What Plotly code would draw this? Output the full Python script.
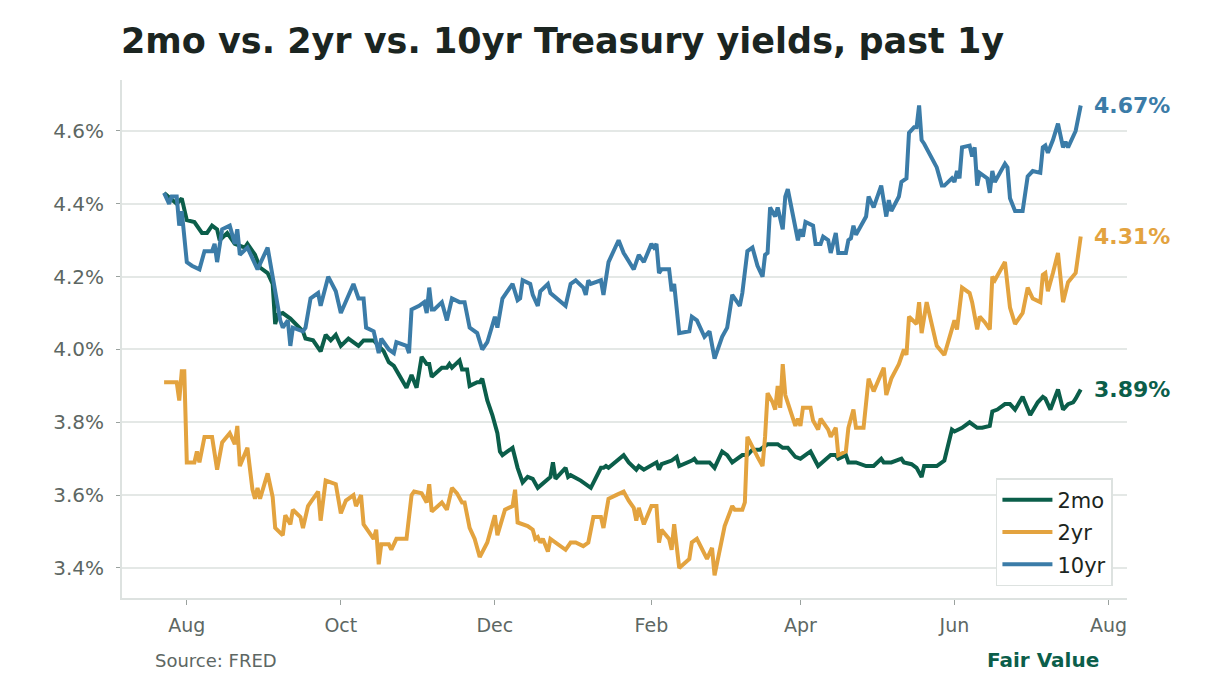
import pandas as pd
import plotly.graph_objects as go

START = pd.Timestamp("2025-07-23")

# day offsets from START and yields (%)
days_2mo = [0, 3, 5, 7, 9, 12, 15, 17, 19, 21, 22, 25, 28, 32, 33, 36, 38, 41, 43, 44, 45, 47, 50, 55, 56, 59, 62, 64, 66, 68, 70, 73, 75, 77, 79, 83, 87, 89, 91, 96, 98, 100, 102, 104, 105, 106, 110, 112, 113, 114, 117, 118, 120, 121, 124, 125, 126, 128, 130, 132, 133, 134, 136, 138, 140, 142, 144, 146, 148, 153, 154, 155, 159, 160, 161, 165, 169, 173, 174, 175, 176, 182, 184, 187, 188, 190, 195, 196, 197, 201, 203, 204, 209, 210, 211, 216, 218, 221, 223, 225, 229, 231, 233, 236, 239, 243, 245, 247, 250, 252, 256, 259, 264, 266, 267, 270, 271, 274, 278, 281, 284, 285, 288, 292, 293, 296, 298, 300, 301, 306, 309, 312, 313, 316, 319, 322, 324, 327, 328, 330, 333, 335, 337, 340, 343, 346, 348, 349, 351, 354, 356, 358, 360, 361, 363]
yld_2mo = [4.43, 4.41, 4.40, 4.415, 4.355, 4.35, 4.32, 4.32, 4.34, 4.33, 4.30, 4.32, 4.29, 4.28, 4.29, 4.26, 4.225, 4.21, 4.18, 4.07, 4.095, 4.10, 4.085, 4.05, 4.03, 4.025, 3.995, 4.04, 4.025, 4.04, 4.01, 4.03, 4.02, 4.01, 4.025, 4.025, 3.995, 3.965, 3.955, 3.895, 3.93, 3.895, 3.98, 3.96, 3.96, 3.925, 3.95, 3.95, 3.96, 3.95, 3.97, 3.945, 3.945, 3.90, 3.91, 3.91, 3.92, 3.86, 3.82, 3.77, 3.72, 3.71, 3.72, 3.73, 3.675, 3.635, 3.65, 3.645, 3.62, 3.65, 3.69, 3.645, 3.675, 3.65, 3.655, 3.64, 3.62, 3.675, 3.675, 3.68, 3.675, 3.71, 3.69, 3.67, 3.68, 3.67, 3.69, 3.67, 3.685, 3.695, 3.705, 3.68, 3.695, 3.70, 3.69, 3.69, 3.675, 3.72, 3.71, 3.69, 3.71, 3.71, 3.725, 3.725, 3.74, 3.74, 3.73, 3.73, 3.705, 3.70, 3.72, 3.68, 3.71, 3.71, 3.70, 3.71, 3.69, 3.69, 3.68, 3.68, 3.70, 3.69, 3.69, 3.70, 3.69, 3.685, 3.675, 3.65, 3.68, 3.68, 3.695, 3.78, 3.775, 3.785, 3.80, 3.785, 3.785, 3.79, 3.83, 3.835, 3.85, 3.85, 3.835, 3.87, 3.82, 3.855, 3.87, 3.865, 3.835, 3.89, 3.835, 3.85, 3.855, 3.865, 3.89]

days_2yr = [0, 5, 6, 7, 8, 9, 12, 13, 14, 16, 19, 21, 23, 26, 28, 29, 30, 33, 35, 36, 37, 38, 41, 43, 44, 47, 48, 50, 51, 54, 55, 57, 58, 61, 62, 64, 68, 70, 72, 75, 76, 78, 79, 83, 84, 85, 86, 89, 90, 92, 96, 98, 99, 102, 104, 105, 106, 110, 112, 114, 116, 118, 119, 121, 123, 125, 128, 131, 132, 135, 138, 139, 140, 144, 146, 147, 148, 149, 150, 152, 153, 155, 159, 161, 163, 166, 168, 170, 173, 174, 176, 179, 182, 184, 186, 187, 188, 190, 193, 195, 196, 197, 200, 201, 202, 204, 208, 209, 211, 215, 217, 218, 222, 225, 226, 229, 230, 231, 233, 235, 237, 238, 239, 241, 242, 243, 244, 245, 246, 250, 251, 252, 253, 256, 257, 259, 260, 263, 264, 266, 267, 270, 271, 273, 274, 277, 279, 281, 285, 286, 288, 291, 293, 294, 295, 298, 299, 300, 302, 306, 309, 312, 313, 314, 316, 319, 320, 322, 323, 325, 327, 328, 329, 333, 335, 337, 340, 342, 344, 347, 348, 349, 350, 352, 354, 356, 358, 361, 363]
yld_2yr = [3.91, 3.91, 3.86, 3.94, 3.94, 3.69, 3.69, 3.72, 3.69, 3.76, 3.76, 3.67, 3.745, 3.77, 3.74, 3.79, 3.68, 3.73, 3.615, 3.59, 3.62, 3.59, 3.66, 3.595, 3.51, 3.49, 3.545, 3.52, 3.56, 3.54, 3.51, 3.57, 3.58, 3.61, 3.53, 3.64, 3.63, 3.55, 3.585, 3.60, 3.57, 3.60, 3.52, 3.48, 3.505, 3.41, 3.465, 3.465, 3.45, 3.48, 3.48, 3.60, 3.61, 3.605, 3.58, 3.63, 3.555, 3.58, 3.56, 3.62, 3.605, 3.58, 3.58, 3.51, 3.48, 3.43, 3.47, 3.545, 3.49, 3.56, 3.57, 3.615, 3.525, 3.515, 3.505, 3.48, 3.485, 3.47, 3.48, 3.445, 3.48, 3.47, 3.45, 3.47, 3.47, 3.46, 3.47, 3.54, 3.54, 3.51, 3.59, 3.60, 3.61, 3.585, 3.565, 3.53, 3.565, 3.52, 3.57, 3.57, 3.47, 3.505, 3.48, 3.45, 3.52, 3.40, 3.425, 3.47, 3.48, 3.425, 3.455, 3.38, 3.515, 3.57, 3.56, 3.56, 3.58, 3.76, 3.73, 3.705, 3.68, 3.76, 3.88, 3.855, 3.835, 3.90, 3.84, 3.96, 3.875, 3.79, 3.81, 3.79, 3.84, 3.84, 3.805, 3.78, 3.81, 3.78, 3.76, 3.785, 3.71, 3.72, 3.785, 3.835, 3.785, 3.785, 3.92, 3.885, 3.95, 3.875, 3.92, 3.96, 4.00, 3.985, 4.09, 4.07, 4.13, 4.045, 4.13, 4.01, 3.985, 4.055, 4.08, 4.055, 4.17, 4.155, 4.13, 4.055, 4.09, 4.075, 4.055, 4.20, 4.19, 4.24, 4.115, 4.07, 4.10, 4.17, 4.14, 4.13, 4.205, 4.21, 4.16, 4.21, 4.265, 4.13, 4.185, 4.21, 4.31]

days_10yr = [0, 2, 3, 5, 6, 7, 9, 11, 14, 16, 19, 20, 21, 23, 26, 28, 29, 30, 33, 37, 41, 44, 46, 47, 49, 50, 51, 55, 56, 58, 61, 62, 65, 68, 70, 75, 77, 79, 80, 83, 85, 86, 89, 91, 92, 96, 97, 98, 101, 103, 104, 105, 106, 107, 110, 112, 114, 117, 119, 121, 124, 126, 128, 131, 132, 134, 138, 140, 141, 142, 145, 146, 148, 149, 152, 153, 159, 161, 163, 166, 167, 168, 169, 173, 174, 176, 180, 182, 184, 186, 188, 190, 193, 194, 195, 196, 197, 200, 201, 202, 204, 208, 209, 211, 214, 216, 218, 221, 223, 225, 228, 229, 231, 233, 235, 237, 238, 239, 240, 242, 243, 245, 246, 247, 251, 252, 253, 254, 257, 258, 260, 261, 263, 264, 266, 267, 270, 271, 272, 273, 274, 278, 279, 281, 284, 286, 287, 288, 291, 292, 294, 295, 297, 298, 299, 300, 301, 306, 308, 309, 312, 313, 314, 315, 316, 319, 320, 321, 322, 323, 326, 327, 328, 329, 333, 334, 335, 337, 340, 342, 344, 347, 348, 349, 350, 352, 354, 356, 357, 358, 361, 363]
yld_10yr = [4.43, 4.40, 4.42, 4.42, 4.34, 4.38, 4.24, 4.23, 4.22, 4.27, 4.27, 4.29, 4.24, 4.33, 4.34, 4.29, 4.33, 4.26, 4.28, 4.22, 4.28, 4.155, 4.08, 4.06, 4.08, 4.01, 4.06, 4.05, 4.06, 4.14, 4.155, 4.12, 4.20, 4.16, 4.10, 4.18, 4.14, 4.14, 4.06, 4.05, 3.99, 4.03, 4.00, 3.99, 4.02, 4.01, 3.99, 4.11, 4.12, 4.13, 4.10, 4.17, 4.11, 4.11, 4.13, 4.08, 4.14, 4.13, 4.13, 4.06, 4.045, 4.00, 4.02, 4.09, 4.06, 4.14, 4.18, 4.135, 4.14, 4.19, 4.18, 4.15, 4.12, 4.16, 4.18, 4.155, 4.12, 4.18, 4.19, 4.17, 4.15, 4.19, 4.18, 4.19, 4.15, 4.24, 4.30, 4.265, 4.24, 4.22, 4.26, 4.24, 4.29, 4.28, 4.29, 4.21, 4.22, 4.22, 4.16, 4.18, 4.045, 4.05, 4.09, 4.08, 4.035, 4.05, 3.975, 4.035, 4.06, 4.15, 4.12, 4.155, 4.27, 4.28, 4.23, 4.20, 4.26, 4.265, 4.39, 4.365, 4.39, 4.33, 4.42, 4.44, 4.30, 4.33, 4.31, 4.35, 4.34, 4.29, 4.29, 4.31, 4.30, 4.265, 4.32, 4.265, 4.265, 4.30, 4.305, 4.34, 4.315, 4.365, 4.42, 4.39, 4.45, 4.365, 4.41, 4.38, 4.42, 4.46, 4.47, 4.595, 4.61, 4.61, 4.67, 4.575, 4.565, 4.50, 4.45, 4.45, 4.47, 4.46, 4.49, 4.47, 4.555, 4.56, 4.53, 4.555, 4.45, 4.485, 4.47, 4.43, 4.49, 4.46, 4.51, 4.50, 4.415, 4.38, 4.38, 4.475, 4.49, 4.485, 4.555, 4.56, 4.54, 4.575, 4.62, 4.555, 4.57, 4.555, 4.60, 4.67]

series_names = ["2mo", "2yr", "10yr"]
series_colors = ["#0b5e4a", "#e3a33f", "#3b7ca8"]
y_ticks = [3.4, 3.6, 3.8, 4.0, 4.2, 4.4, 4.6]

def to_dates(days):
    return START + pd.to_timedelta(days, unit="D")

fig = go.Figure()
all_days = [days_2mo, days_2yr, days_10yr]
all_yld = [yld_2mo, yld_2yr, yld_10yr]
for name, color, d, y in zip(series_names, series_colors, all_days, all_yld):
    fig.add_trace(go.Scatter(x=to_dates(d), y=y, mode="lines", name=name, legendgroup=name,
                             line=dict(color=color, width=4)))
    fig.add_annotation(x=to_dates(d)[-1], y=y[-1], text=f"<b>{y[-1]:.2f}%</b>",
                       showarrow=False, xanchor="left", xshift=11, yanchor="middle",
                       font=dict(family="DejaVu Sans", size=22, color=color))

grey_line = "#dde2e0"
tick_grey = "#5d6763"

fig.update_layout(
    width=1224, height=680,
    margin=dict(l=122, r=97, t=80, b=82),
    paper_bgcolor="white", plot_bgcolor="white",
    font=dict(family="DejaVu Sans", color=tick_grey, size=19),
    title=dict(text="<b>2mo vs. 2yr vs. 10yr Treasury yields, past 1y</b>",
               x=121 / 1224, xanchor="left", y=1 - 41 / 680, yanchor="middle",
               font=dict(family="DejaVu Sans", size=35, color="#1b2521")),
    showlegend=True,
    legend=dict(x=0.986, y=0.023, xanchor="right", yanchor="bottom",
                bgcolor="white", bordercolor=grey_line, borderwidth=1.5,
                font=dict(family="DejaVu Sans", size=21, color="#1b2521"),
                tracegroupgap=2, itemwidth=50),
)

fig.update_xaxes(
    range=["2025-07-06 08:00", "2026-08-08 08:00"],
    tick0="2025-08-01", dtick="M2", tickformat="%b",
    showgrid=False, showline=True, linecolor=grey_line, linewidth=2,
    ticks="outside", tickcolor="#9aa19e", ticklen=5, tickwidth=1,
    tickfont=dict(size=19, color=tick_grey), zeroline=False, ticklabelstandoff=4,
)
fig.update_yaxes(
    range=[3.3176, 4.74],
    tickvals=y_ticks, ticktext=[f"{v:.1f}%" for v in y_ticks],
    showgrid=True, gridcolor="#e4e8e6", gridwidth=1.5,
    showline=True, linecolor=grey_line, linewidth=2,
    ticks="outside", tickcolor="#9aa19e", ticklen=4, tickwidth=1,
    tickfont=dict(size=20, color=tick_grey), zeroline=False, ticklabelstandoff=8,
)

fig.add_annotation(text="Source: FRED", xref="paper", yref="paper",
                   x=(153 - 122) / 1005, y=(598 - 660) / 518, xanchor="left", yanchor="middle",
                   showarrow=False, font=dict(family="DejaVu Sans", size=18, color=tick_grey))
fig.add_annotation(text="<b>Fair Value</b>", xref="paper", yref="paper",
                   x=(1101 - 122) / 1005, y=(598 - 660) / 518, xanchor="right", yanchor="middle",
                   showarrow=False, font=dict(family="DejaVu Sans", size=20, color="#0b5e4a"))

fig.write_html("out.html")
